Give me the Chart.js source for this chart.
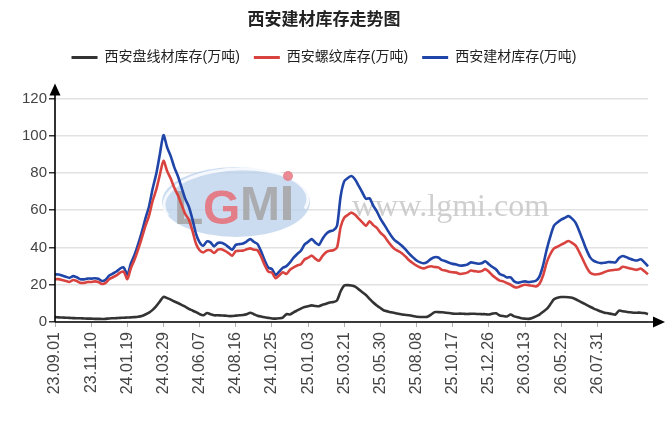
<!DOCTYPE html>
<html><head><meta charset="utf-8">
<script src="https://cdn.jsdelivr.net/npm/chart.js@4.4.1/dist/chart.umd.min.js"></script>
<style>html,body{margin:0;padding:0;background:#fff;}</style>
</head><body>
<canvas id="c" width="666" height="422" style="width:666px;height:422px;display:block"></canvas>
<script>
const chartTitle = '西安建材库存走势图';
const seriesNames = ['西安盘线材库存(万吨)', '西安螺纹库存(万吨)', '西安建材库存(万吨)'];
const startDate = '2023-09-01';
const weekCount = 165;
const skippedWeeks = ['25.01.31', '26.02.20'];
const tickLabels = ['23.09.01','23.11.10','24.01.19','24.03.29','24.06.07','24.08.16','24.10.25','25.01.03','25.03.21','25.05.30','25.08.08','25.10.17','25.12.26','26.03.13','26.05.22','26.07.31'];
const yTicks = [0, 20, 40, 60, 80, 100, 120];

const wireRod = [
2.6,2.5,2.4,2.3,2.2,2.1,2.0,2.0,1.9,1.8,
1.8,1.7,1.7,1.6,1.7,1.9,2.0,2.1,2.2,2.3,
2.4,2.5,2.6,2.8,3.2,4.0,5.0,6.5,8.5,11.0,
13.5,12.8,12.0,11.0,10.2,9.2,8.2,7.0,6.2,5.3,
4.2,3.6,4.8,4.2,3.6,3.6,3.5,3.4,3.2,3.2,
3.4,3.6,3.8,4.2,5.0,4.2,3.4,2.9,2.5,2.2,
1.9,1.8,2.0,2.4,4.2,4.0,5.2,6.2,7.2,8.0,
8.5,8.9,8.6,8.5,9.2,9.8,10.5,10.7,11.6,16.5,
19.6,19.8,19.6,19.0,17.5,16.0,14.5,12.4,10.5,8.9,
7.5,6.2,5.7,5.2,4.8,4.4,4.0,3.8,3.6,3.2,
2.8,2.7,2.7,2.8,4.0,5.3,5.3,5.2,5.0,4.8,
4.5,4.4,4.5,4.4,4.3,4.4,4.4,4.3,4.2,4.2,
4.0,4.5,4.7,3.5,3.2,3.0,4.0,3.0,2.5,2.0,
1.8,1.7,2.2,3.0,4.0,5.5,7.0,9.5,12.2,13.0,
13.4,13.4,13.3,13.0,12.2,11.2,10.2,9.2,8.2,7.2,
6.4,5.6,5.0,4.7,4.3,4.0,6.1,5.8,5.5,5.2,
5.0,5.0,5.0,4.8,4.3];

const rebar = [
23,23,22.5,22,21.5,22.5,22,21,21,21.5,
21.5,21.8,21.5,20.4,21,23,24,25,26.5,27,
23,29,33.5,39,45,51.5,57,65,71,79,
86.5,81,77,72,68,63,58,55,49,42,
38.5,37.3,38.5,38.5,37,38.8,39,38.2,37,35.6,
38,38.2,38.3,39,39.5,38.8,38.5,35,30.5,27,
26.5,23.5,25,26.7,25.8,28,29.3,30.3,31,33.5,
34.5,35.6,34,32.9,35.5,37.5,38.2,38.5,40,51,
56,57.5,58.7,57.5,55.5,53.5,51.6,54,52,50.5,
48,46.2,43.5,41,39,38,36.8,35,33,31.5,
30.2,29.3,28.8,29.5,29.9,29.5,29.3,28,27.6,27,
26.7,26.5,25.8,26,26.5,27.6,27.3,27,27.3,28.4,
27,25,23.5,22.2,21.8,20.9,20,18.8,18.6,19.5,
20,19.7,19.5,19.1,20.5,25,32,36.5,39.5,40.5,
41.5,42.5,43.5,42.5,41,37.5,33.5,29.5,26.5,25.6,
25.6,26,26.8,27.5,27.8,28,28.3,29.6,29.3,28.7,
28.3,28,28.7,27.2,25.6];

const buildingMaterials = [
25.6,25.5,24.9,24.3,23.7,24.6,24.0,23.0,22.9,23.3,
23.3,23.5,23.2,22.0,22.7,24.9,26.0,27.1,28.7,29.3,
25.4,31.5,36.1,41.8,48.2,55.5,62.0,71.5,79.5,90.0,
100.3,93.8,89.0,83.0,78.2,72.2,66.2,62.0,55.2,47.3,
42.7,40.9,43.3,42.7,40.6,42.4,42.5,41.6,40.2,38.8,
41.4,41.8,42.1,43.2,44.5,43.0,41.9,37.9,33.0,29.2,
28.4,25.3,27.0,29.1,30.0,32.0,34.5,36.5,38.2,41.5,
43.0,44.5,42.6,41.4,44.7,47.3,48.7,49.2,51.6,67.5,
75.6,77.3,78.3,76.5,73.0,69.5,66.1,66.4,62.5,59.4,
55.5,52.4,49.2,46.2,43.8,42.4,40.8,38.8,36.6,34.7,
33.0,32.0,31.5,32.3,33.9,34.8,34.6,33.2,32.6,31.8,
31.2,30.9,30.3,30.4,30.8,32.0,31.7,31.3,31.5,32.6,
31.0,29.5,28.2,25.7,25.0,23.9,24.0,21.8,21.1,21.5,
21.8,21.4,21.7,22.1,24.5,30.5,39.0,46.0,51.7,53.5,
54.9,55.9,56.8,55.5,53.2,48.7,43.7,38.7,34.7,32.8,
32.0,31.6,31.8,32.2,32.1,32.0,34.4,35.4,34.8,33.9,
33.3,33.0,33.7,32.0,29.9];

// weekly category labels (YY.MM.DD), skipping holiday weeks
const categories = [];
(function(){
  const d = new Date(startDate + 'T00:00:00Z');
  const p = n => String(n).padStart(2, '0');
  while (categories.length < weekCount) {
    const s = p(d.getUTCFullYear() % 100) + '.' + p(d.getUTCMonth() + 1) + '.' + p(d.getUTCDate());
    if (!skippedWeeks.includes(s)) categories.push(s);
    d.setUTCDate(d.getUTCDate() + 7);
  }
})();

const FONT = "'Liberation Sans', 'Noto Sans CJK SC', sans-serif";

const legendSpacer = {
  id: 'legendSpacer',
  beforeInit(chart) {
    const lg = chart.legend;
    const origFit = lg.fit;
    lg.fit = function() { origFit.call(this); this.height += 24; };
  }
};

const watermark = {
  id: 'watermark',
  beforeDatasetsDraw(chart) {
    const ctx = chart.ctx;
    ctx.save();
    ctx.beginPath();
    ctx.ellipse(236, 202, 74, 35, 0, 0, Math.PI * 2);
    ctx.fillStyle = 'rgba(185,208,236,0.75)';
    ctx.fill();
    ctx.beginPath();
    ctx.ellipse(236, 202, 72, 33, -0.05, Math.PI * 0.9, Math.PI * 2.1);
    ctx.strokeStyle = 'rgba(255,255,255,0.8)';
    ctx.lineWidth = 3;
    ctx.stroke();
    ctx.font = "bold 48px 'Liberation Sans', sans-serif";
    ctx.textBaseline = 'alphabetic';
    ctx.textAlign = 'left';
    ctx.fillStyle = 'rgba(165,165,165,0.85)';
    ctx.fillText('L', 174, 224);
    ctx.fillStyle = 'rgba(232,110,120,0.85)';
    ctx.fillText('G', 203, 224);
    ctx.fillStyle = 'rgba(165,165,165,0.85)';
    ctx.fillText('M', 240, 220);
    ctx.fillRect(283, 186, 8, 34);
    ctx.fillStyle = 'rgba(232,120,130,0.85)';
    ctx.beginPath(); ctx.arc(288, 176, 5, 0, Math.PI * 2); ctx.fill();
    ctx.font = "32px 'Liberation Serif', serif";
    ctx.fillStyle = 'rgba(195,195,195,0.8)';
    ctx.fillText('www.lgmi.com', 352, 216);
    ctx.restore();
  }
};

const axisArrows = {
  id: 'axisArrows',
  afterDraw(chart) {
    const { ctx, chartArea: a } = chart;
    ctx.save();
    ctx.strokeStyle = '#000';
    ctx.fillStyle = '#000';
    ctx.lineWidth = 1.6;
    ctx.beginPath();
    ctx.moveTo(a.left, a.bottom);
    ctx.lineTo(a.left, a.top - 6);
    ctx.moveTo(a.left, a.bottom);
    ctx.lineTo(a.right + 8, a.bottom);
    ctx.stroke();
    ctx.beginPath();
    ctx.moveTo(a.left, a.top - 15);
    ctx.lineTo(a.left - 5.5, a.top - 3);
    ctx.lineTo(a.left + 5.5, a.top - 3);
    ctx.closePath();
    ctx.fill();
    ctx.beginPath();
    ctx.moveTo(a.right + 17, a.bottom);
    ctx.lineTo(a.right + 5, a.bottom - 5.5);
    ctx.lineTo(a.right + 5, a.bottom + 5.5);
    ctx.closePath();
    ctx.fill();
    ctx.restore();
  }
};

new Chart(document.getElementById('c'), {
  type: 'line',
  data: {
    labels: categories,
    datasets: [
      { label: seriesNames[0], data: wireRod, borderColor: '#333333', backgroundColor: '#333333', pointBorderColor: '#333333', pointBorderWidth: 3 },
      { label: seriesNames[1], data: rebar, borderColor: '#d9433f', backgroundColor: '#d9433f', pointBorderColor: '#d9433f', pointBorderWidth: 3 },
      { label: seriesNames[2], data: buildingMaterials, borderColor: '#1f45a8', backgroundColor: '#1f45a8', pointBorderColor: '#1f45a8', pointBorderWidth: 3 }
    ]
  },
  options: {
    responsive: false,
    animation: false,
    devicePixelRatio: 1,
    layout: { padding: { top: 5, left: 0, right: 18, bottom: 0 } },
    elements: {
      line: { borderWidth: 2.6, tension: 0.25, fill: false },
      point: { radius: 0, hoverRadius: 0 }
    },
    plugins: {
      title: {
        display: true, text: chartTitle, color: '#222',
        font: { family: FONT, size: 17, weight: 'bold' },
        padding: { top: 5, bottom: 6 }
      },
      legend: {
        display: true,
        labels: {
          usePointStyle: true, pointStyle: 'line', pointStyleWidth: 26,
          color: '#222', font: { family: FONT, size: 14 }, padding: 14
        }
      },
      tooltip: { enabled: false }
    },
    scales: {
      x: {
        type: 'category',
        offset: false,
        border: { display: false },
        grid: { drawOnChartArea: false, drawTicks: true, tickLength: 5, color: '#b0b0b0' },
        ticks: {
          autoSkip: false, maxRotation: 90, minRotation: 90,
          color: '#444', font: { family: FONT, size: 16 }, padding: 5,
          callback: function(v, i) { return tickLabels.includes(categories[i]) ? categories[i] : null; }
        },
        afterFit: s => { s.height = 100; }
      },
      y: {
        min: 0, max: 120,
        border: { display: false },
        grid: { color: '#e2e2e2', lineWidth: 1.5, tickLength: 6, tickColor: '#333', drawTicks: true },
        afterBuildTicks: s => { s.ticks = yTicks.map(v => ({ value: v })); },
        ticks: { color: '#444', font: { family: FONT, size: 15 }, padding: 2 },
        afterFit: s => { s.width = 55; }
      }
    }
  },
  plugins: [legendSpacer, watermark, axisArrows]
});
</script>
</body></html>
